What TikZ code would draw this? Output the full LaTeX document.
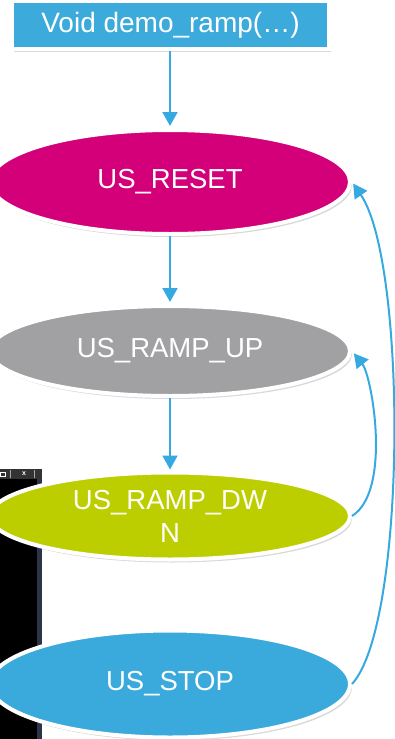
\documentclass[tikz,border=0pt]{standalone}
\usepackage{fontspec}
\setmainfont{Liberation Sans}
\usetikzlibrary{arrows.meta,shadows,shapes.geometric}
\definecolor{boxblue}{HTML}{3DAADC}
\definecolor{arrowblue}{HTML}{36A9E1}
\definecolor{resetc}{HTML}{D4007A}
\definecolor{rampc}{HTML}{A1A1A3}
\definecolor{dwnc}{HTML}{BDCE00}
\definecolor{stopc}{HTML}{3AA9DB}
\definecolor{winbar}{HTML}{333333}
\definecolor{winedge}{HTML}{2B3448}
\begin{document}
\begin{tikzpicture}[x=1pt,y=-1pt,
  state/.style={ellipse, draw=white, line width=4pt, text=white, minimum width=360pt,
    inner sep=0pt, font=\fontsize{27.5}{33}\selectfont, align=center,
    drop shadow={shadow xshift=2pt,shadow yshift=-3pt,opacity=0.3}},
  flow/.style={draw=arrowblue, line width=2pt, -{Triangle[width=15pt,length=14pt]}}]
\useasboundingbox (0,0) rectangle (395,739);
\clip (0,0) rectangle (395,739);
% background window fragment
\fill[black] (0,479) rectangle (37,739);
\fill[winedge] (37,479) rectangle (42,739);
\fill[winbar] (0,469) rectangle (42,479);
\draw[gray!70, line width=0.6pt] (10,470) -- (10,478) (34,470) -- (34,478);
\draw[white, line width=0.7pt] (0.5,472) rectangle (5,476);
\node[text=white, font=\fontsize{7}{7}\selectfont\bfseries, inner sep=0pt] (winx) at (24,474) {x};
% top box
\node[fill=boxblue, draw=white, line width=4pt, minimum width=317pt, minimum height=48pt,
  text=white, inner sep=0pt, font=\fontsize{28}{33}\selectfont,
  drop shadow={shadow xshift=2pt,shadow yshift=-3pt,opacity=0.3}] (box) at (170.5,25) {Void demo\_ramp(…)};
% states
\node[state, fill=resetc, minimum height=104pt] (reset) at (170,182) {US\_RESET};
\node[state, fill=rampc, minimum height=90pt] (ramp) at (170,351) {US\_RAMP\_UP};
\node[state, fill=dwnc, minimum height=87pt] (dwn) at (170,516) {US\_RAMP\_DW\\N};
\node[state, fill=stopc, minimum height=107pt] (stop) at (170,684) {US\_STOP};
% arrows
\draw[flow, shorten >=2pt] (reset.north |- box.south) -- (reset.north);
\draw[flow, shorten >=2pt] (reset.south) -- (ramp.north);
\draw[flow, shorten >=1pt] (ramp.south) -- (dwn.north);
\draw[flow, shorten >=3pt] (dwn.east) .. controls +(40,-25) and +(20,25) .. (ramp.east);
\draw[flow, shorten >=2pt] (stop.east) .. controls +(55,-60) and +(55,80) .. (reset.east);
\end{tikzpicture}
\end{document}
